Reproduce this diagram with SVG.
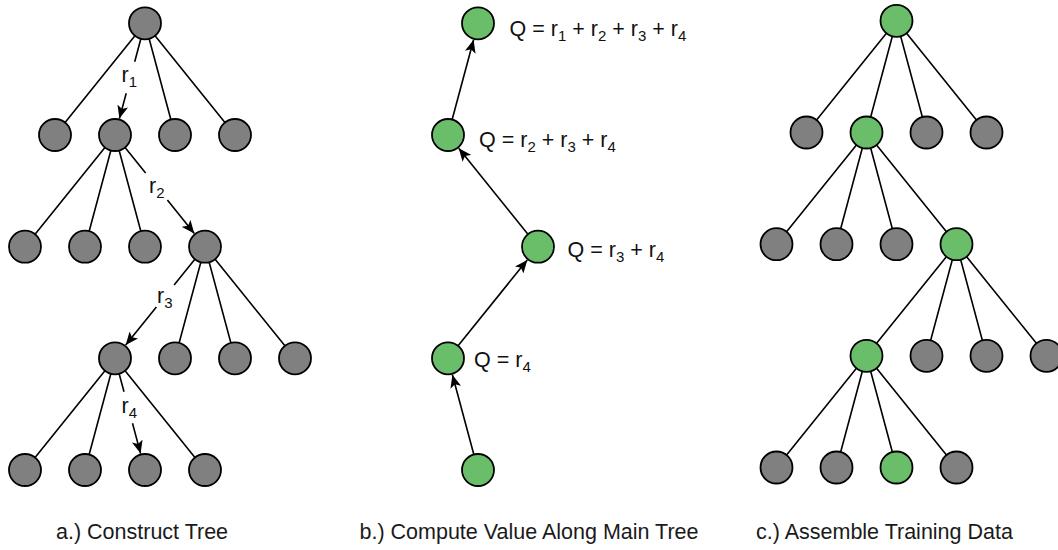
<svg xmlns="http://www.w3.org/2000/svg" width="1058" height="550" viewBox="0 0 1058 550">
<style>
.e{stroke:#000;stroke-width:1.6;fill:none}
.a{stroke:#000;stroke-width:1.6;fill:none;marker-end:url(#arr)}
.n circle{stroke:#000;stroke-width:1.8}
.g circle{fill:#808080}
.gr circle{fill:#6abe6a}
text{font-family:"Liberation Sans",Arial,Helvetica,sans-serif;font-size:21.5px;fill:#111}
.s{font-size:15px}
.cap{font-size:21.5px;fill:#1a1a1a}
</style>
<defs>
<marker id="arr" markerUnits="userSpaceOnUse" viewBox="0 0 13 11" markerWidth="13" markerHeight="11" refX="13" refY="5.5" orient="auto">
<path d="M0,0 L13,5.5 L0,11 L3,5.5 z" fill="#000"/>
</marker>
</defs>
<g id="connectors">
<path class="e" d="M145,23.3 L55,135 M145,23.3 L175,135 M145,23.3 L235,135 M115,135 L25,246.7 M115,135 L85,246.7 M115,135 L145,246.7 M205,246.7 L175,358.3 M205,246.7 L235,358.3 M205,246.7 L295,358.3 M115,358.3 L25,470 M115,358.3 L85,470 M115,358.3 L205,470"/>
<path class="a" d="M145,23.3 L134.7,61.7 M126.2,93.3 L119.4,118.6"/>
<path class="a" d="M115,135 L145.6,173 M167.4,200 L194.3,233.5"/>
<path class="a" d="M205,246.7 L174.1,285 M156.4,307 L125.7,345.1"/>
<path class="a" d="M115,358.3 L124,391.7 M132.5,423.3 L140.6,453.6"/>
<path class="a" d="M478,470 L452.4,374.7"/>
<path class="a" d="M448,358.3 L527.3,259.9"/>
<path class="a" d="M538,246.7 L458.7,148.2"/>
<path class="a" d="M448,135 L473.6,39.7"/>
<path class="e" d="M896.5,20.8 L806.5,132.5 M896.5,20.8 L866.5,132.5 M896.5,20.8 L926.5,132.5 M896.5,20.8 L986.5,132.5 M866.5,132.5 L776.5,244.2 M866.5,132.5 L836.5,244.2 M866.5,132.5 L896.5,244.2 M866.5,132.5 L956.5,244.2 M956.5,244.2 L866.5,355.8 M956.5,244.2 L926.5,355.8 M956.5,244.2 L986.5,355.8 M956.5,244.2 L1046.5,355.8 M866.5,355.8 L776.5,467.5 M866.5,355.8 L836.5,467.5 M866.5,355.8 L896.5,467.5 M866.5,355.8 L956.5,467.5"/>
</g>
<g id="treeA">
<g id="a-root" class="n g"><circle cx="145" cy="23.3" r="16"/></g>
<g id="a-l2-1" class="n g"><circle cx="55" cy="135" r="16"/></g>
<g id="a-l2-2" class="n g"><circle cx="115" cy="135" r="16"/></g>
<g id="a-l2-3" class="n g"><circle cx="175" cy="135" r="16"/></g>
<g id="a-l2-4" class="n g"><circle cx="235" cy="135" r="16"/></g>
<g id="a-l3-1" class="n g"><circle cx="25" cy="246.7" r="16"/></g>
<g id="a-l3-2" class="n g"><circle cx="85" cy="246.7" r="16"/></g>
<g id="a-l3-3" class="n g"><circle cx="145" cy="246.7" r="16"/></g>
<g id="a-l3-4" class="n g"><circle cx="205" cy="246.7" r="16"/></g>
<g id="a-l4-1" class="n g"><circle cx="115" cy="358.3" r="16"/></g>
<g id="a-l4-2" class="n g"><circle cx="175" cy="358.3" r="16"/></g>
<g id="a-l4-3" class="n g"><circle cx="235" cy="358.3" r="16"/></g>
<g id="a-l4-4" class="n g"><circle cx="295" cy="358.3" r="16"/></g>
<g id="a-l5-1" class="n g"><circle cx="25" cy="470" r="16"/></g>
<g id="a-l5-2" class="n g"><circle cx="85" cy="470" r="16"/></g>
<g id="a-l5-3" class="n g"><circle cx="145" cy="470" r="16"/></g>
<g id="a-l5-4" class="n g"><circle cx="205" cy="470" r="16"/></g>
<g id="a-labels">
<text x="121.5" y="81.7">r<tspan class="s" dy="5">1</tspan></text>
<text x="149" y="193.3">r<tspan class="s" dy="5">2</tspan></text>
<text x="157" y="303.3">r<tspan class="s" dy="5">3</tspan></text>
<text x="121.5" y="413.3">r<tspan class="s" dy="5">4</tspan></text>
</g>
</g>
<g id="treeB">
<g id="b-1" class="n gr"><circle cx="478" cy="23.3" r="16"/></g>
<g id="b-2" class="n gr"><circle cx="448" cy="135" r="16"/></g>
<g id="b-3" class="n gr"><circle cx="538" cy="246.7" r="16"/></g>
<g id="b-4" class="n gr"><circle cx="448" cy="358.3" r="16"/></g>
<g id="b-5" class="n gr"><circle cx="478" cy="470" r="16"/></g>
<g id="b-labels">
<text x="509.5" y="35.7">Q = r<tspan class="s" dy="5">1</tspan><tspan dy="-5"> + r</tspan><tspan class="s" dy="5">2</tspan><tspan dy="-5"> + r</tspan><tspan class="s" dy="5">3</tspan><tspan dy="-5"> + r</tspan><tspan class="s" dy="5">4</tspan></text>
<text x="479" y="146.7">Q = r<tspan class="s" dy="5">2</tspan><tspan dy="-5"> + r</tspan><tspan class="s" dy="5">3</tspan><tspan dy="-5"> + r</tspan><tspan class="s" dy="5">4</tspan></text>
<text x="567.5" y="256.7">Q = r<tspan class="s" dy="5">3</tspan><tspan dy="-5"> + r</tspan><tspan class="s" dy="5">4</tspan></text>
<text x="474" y="366.7">Q = r<tspan class="s" dy="5">4</tspan></text>
</g>
</g>
<g id="treeC">
<g id="c-root" class="n gr"><circle cx="896.5" cy="20.8" r="16"/></g>
<g id="c-l2-1" class="n g"><circle cx="806.5" cy="132.5" r="16"/></g>
<g id="c-l2-2" class="n gr"><circle cx="866.5" cy="132.5" r="16"/></g>
<g id="c-l2-3" class="n g"><circle cx="926.5" cy="132.5" r="16"/></g>
<g id="c-l2-4" class="n g"><circle cx="986.5" cy="132.5" r="16"/></g>
<g id="c-l3-1" class="n g"><circle cx="776.5" cy="244.2" r="16"/></g>
<g id="c-l3-2" class="n g"><circle cx="836.5" cy="244.2" r="16"/></g>
<g id="c-l3-3" class="n g"><circle cx="896.5" cy="244.2" r="16"/></g>
<g id="c-l3-4" class="n gr"><circle cx="956.5" cy="244.2" r="16"/></g>
<g id="c-l4-1" class="n gr"><circle cx="866.5" cy="355.8" r="16"/></g>
<g id="c-l4-2" class="n g"><circle cx="926.5" cy="355.8" r="16"/></g>
<g id="c-l4-3" class="n g"><circle cx="986.5" cy="355.8" r="16"/></g>
<g id="c-l4-4" class="n g"><circle cx="1046.5" cy="355.8" r="16"/></g>
<g id="c-l5-1" class="n g"><circle cx="776.5" cy="467.5" r="16"/></g>
<g id="c-l5-2" class="n g"><circle cx="836.5" cy="467.5" r="16"/></g>
<g id="c-l5-3" class="n gr"><circle cx="896.5" cy="467.5" r="16"/></g>
<g id="c-l5-4" class="n g"><circle cx="956.5" cy="467.5" r="16"/></g>
</g>
<g id="captions">
<text class="cap" x="56" y="539">a.) Construct Tree</text>
<text class="cap" x="359.5" y="539">b.) Compute Value Along Main Tree</text>
<text class="cap" x="756" y="539">c.) Assemble Training Data</text>
</g>
</svg>
